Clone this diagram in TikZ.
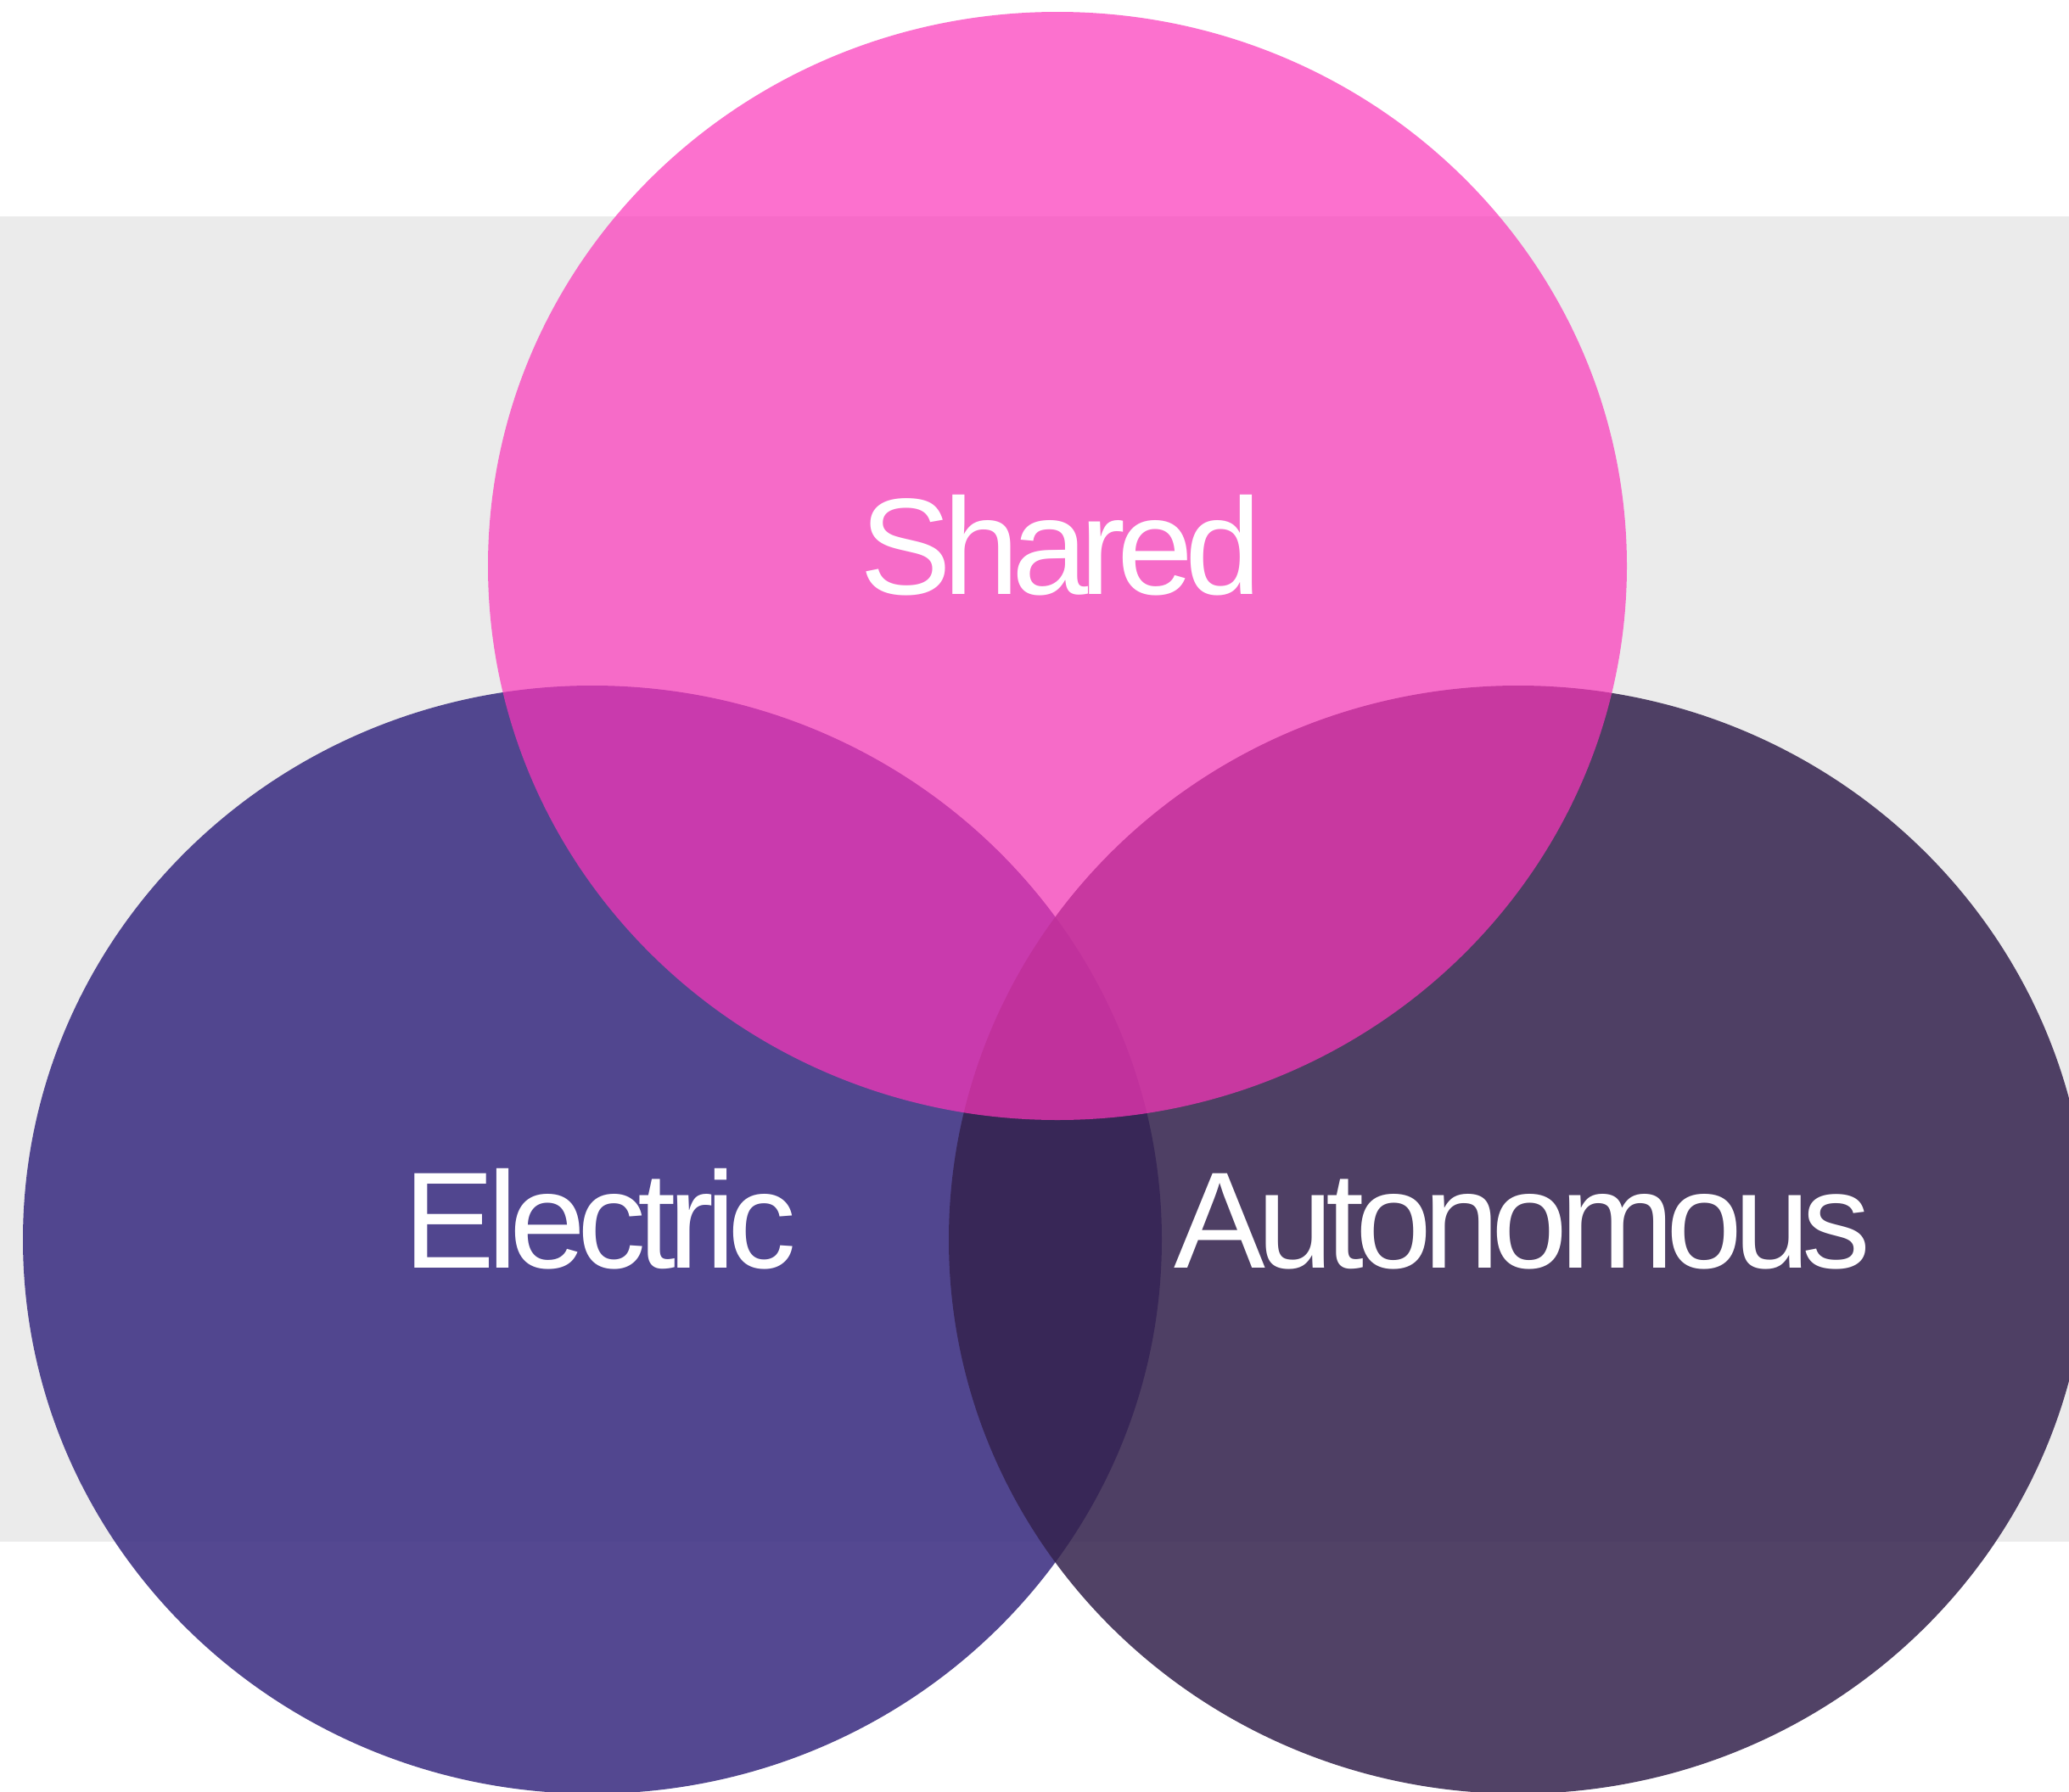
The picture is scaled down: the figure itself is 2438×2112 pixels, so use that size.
\documentclass[tikz,border=0pt]{standalone}
\usepackage{fontspec}
\setmainfont{Liberation Sans}[LetterSpace=-6]
\definecolor{bandgray}{RGB}{235,235,235}
\definecolor{eleccol}{RGB}{56,43,128}
\definecolor{autocol}{RGB}{53,35,78}
\definecolor{sharedcol}{RGB}{252,54,186}
\tikzset{
  blob/.style={draw=none},
  lbl/.style={text=white, inner sep=0pt, anchor=base, font=\fontsize{46}{50}\selectfont}
}
\begin{document}
\begin{tikzpicture}[x=0.01cm, y=-0.01cm]
\useasboundingbox (0,0) rectangle (2438,2112);
\fill[white] (0,0) rectangle (2438,2112);
\fill[bandgray] (0,255) rectangle (2438,1817);
\fill[blob, eleccol, fill opacity=0.86] (698,1461) ellipse [x radius=671, y radius=653];
\fill[blob, autocol, fill opacity=0.86] (1789,1461) ellipse [x radius=671, y radius=653];
\fill[blob, sharedcol, fill opacity=0.7] (1246,667) ellipse [x radius=671, y radius=653];
\node[lbl] (shared) at (1250,700) {Shared};
\node[lbl] (electric) at (707,1494) {Electric};
\node[lbl] (autonomous) at (1794,1494) {Autonomous};
\end{tikzpicture}
\end{document}
